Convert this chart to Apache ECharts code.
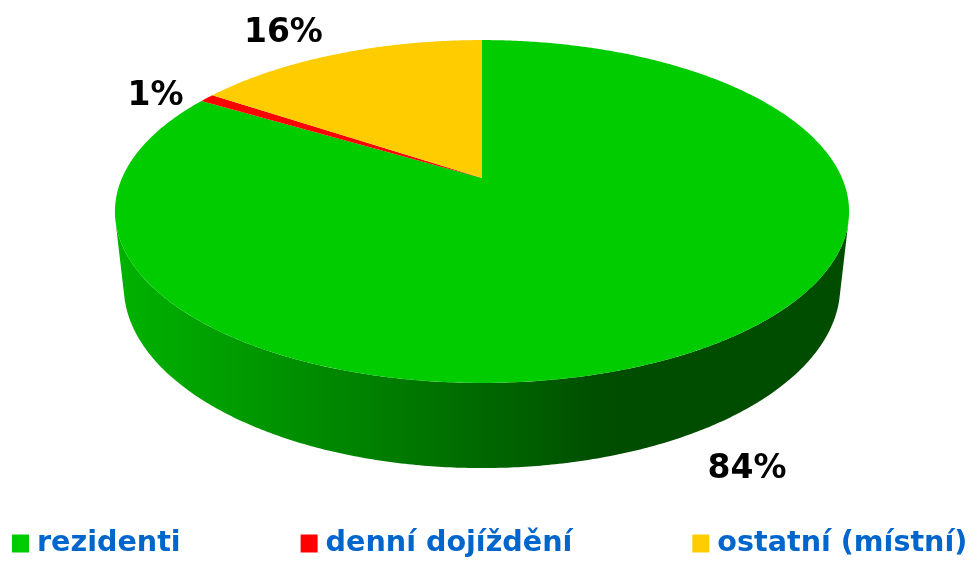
<!DOCTYPE html>
<html><head><meta charset="utf-8">
<script src="https://cdn.jsdelivr.net/npm/echarts@6/dist/echarts.min.js"></script>
<style>html,body{margin:0;padding:0;background:#fff}#c{width:977px;height:563px}</style>
</head><body><div id="c"></div>
<script>
// ---- data ----
const categories = ['rezidenti', 'denní dojíždění', 'ostatní (místní)'];
const values = [83.6, 0.8, 15.6];
const colors = ['#00CC00', '#FF0000', '#FFCC00'];

// ---- 3D perspective projection of the pie ----
const total = values.reduce((a, b) => a + b, 0);
const CX = 482, CY = 178, DIST = 4.55, SIN_E = 0.458, COS_E = 0.889, FOC = 1638, THICK = 0.2356;
function proj(r, tDeg, z) {
  const t = tDeg * Math.PI / 180;
  const X = r * Math.cos(t), Y = r * Math.sin(t);
  const depth = DIST + Y * COS_E - z * SIN_E;
  return [CX + FOC * X / depth, CY - FOC * (Y * SIN_E + z * COS_E) / depth];
}
function sliceRange(i) {
  let before = 0;
  for (let k = 0; k < i; k++) before += values[k];
  const a0 = 90 - before / total * 360;
  const a1 = a0 - values[i] / total * 360;
  return [a1, a0];
}
function hexToRgb(h) {
  const n = parseInt(h.slice(1), 16);
  return [(n >> 16) & 255, (n >> 8) & 255, n & 255];
}
function shade(hex, f) {
  const c = hexToRgb(hex).map(v => Math.max(0, Math.min(255, Math.round(v * f))));
  return 'rgb(' + c.join(',') + ')';
}
function wallShade(hex, tDeg) {
  const light = Math.max(0, Math.cos((tDeg - 196) * Math.PI / 180));
  return shade(hex, 0.377 + 0.49 * light);
}
function renderSlice(params, api) {
  const i = params.seriesIndex;
  const v = api.value(0);
  const [a1, a0] = sliceRange(i);
  const children = [];
  // front outer wall (single polygon, horizontal lighting gradient)
  const lim = Math.asin(-1 / (DIST * COS_E)) * 180 / Math.PI;
  const visLo = 180 - lim, visHi = 360 + lim;
  for (const shift of [-360, 0, 360]) {
    const lo = Math.max(a1, visLo + shift), hi = Math.min(a0, visHi + shift);
    if (hi > lo) {
      const n = Math.max(2, Math.ceil((hi - lo) / 0.5));
      const top = [], bot = [];
      for (let s = 0; s <= n; s++) {
        const t = lo + (hi - lo) * s / n;
        top.push(proj(1, t, 0));
        bot.push(proj(1, t, -THICK));
      }
      const all = top.concat(bot.reverse());
      const xs = all.map(p => p[0]);
      const xL = Math.min(...xs), xR = Math.max(...xs);
      const stops = [];
      const m = 40;
      for (let s = 0; s <= m; s++) {
        const t = lo + (hi - lo) * s / m;
        const x = proj(1, t, -THICK / 2)[0];
        stops.push({ offset: Math.max(0, Math.min(1, (x - xL) / (xR - xL))), color: wallShade(colors[i], t) });
      }
      stops.sort((a, b) => a.offset - b.offset);
      children.push({
        type: 'polygon',
        shape: { points: all },
        style: {
          fill: new echarts.graphic.LinearGradient(xL, 0, xR, 0, stops, true)
        }
      });
    }
  }
  // top face
  const pts = [proj(0, 0, 0)];
  const n = Math.max(2, Math.ceil((a0 - a1) / 0.5));
  for (let s = 0; s <= n; s++) pts.push(proj(1, a1 + (a0 - a1) * s / n, 0));
  children.push({ type: 'polygon', shape: { points: pts }, style: { fill: colors[i] } });
  // label
  const mid = (a0 + a1) / 2;
  const cm = Math.cos(mid * Math.PI / 180), sm = Math.sin(mid * Math.PI / 180);
  const lp = proj(1.07, mid, sm < 0 ? -THICK : 0);
  const align = cm < -0.3 ? 'right' : (cm > 0.3 ? 'left' : 'center');
  children.push({
    type: 'text',
    x: lp[0] + (align === 'right' ? -6 : 0), y: lp[1] + 3,
    style: {
      text: Math.round(v / total * 100) + '%',
      fill: '#000',
      font: 'bold 33px "DejaVu Sans", Verdana, sans-serif',
      align: align,
      verticalAlign: sm > 0.7 ? 'bottom' : (sm < -0.7 ? 'top' : 'middle')
    },
    z2: 10
  });
  return { type: 'group', children };
}

const chart = echarts.init(document.getElementById('c'), null, { renderer: 'canvas' });
chart.setOption({
  animation: false,
  backgroundColor: '#fff',
  legend: {
    data: categories,
    left: 12,
    top: 529,
    padding: 0,
    itemWidth: 17,
    itemHeight: 18,
    itemGap: 120,
    icon: 'rect',
    selectedMode: false,
    textStyle: {
      color: '#0066CC',
      fontWeight: 'bold',
      fontSize: 28.6,
      lineHeight: 28,
      fontFamily: '"DejaVu Sans", Verdana, sans-serif',
      padding: [0, 0, 0, 3]
    }
  },
  series: categories.map((name, i) => ({
    type: 'custom',
    name: name,
    coordinateSystem: 'none',
    silent: true,
    itemStyle: { color: colors[i] },
    data: [values[i]],
    renderItem: renderSlice
  }))
});
</script>
</body></html>
